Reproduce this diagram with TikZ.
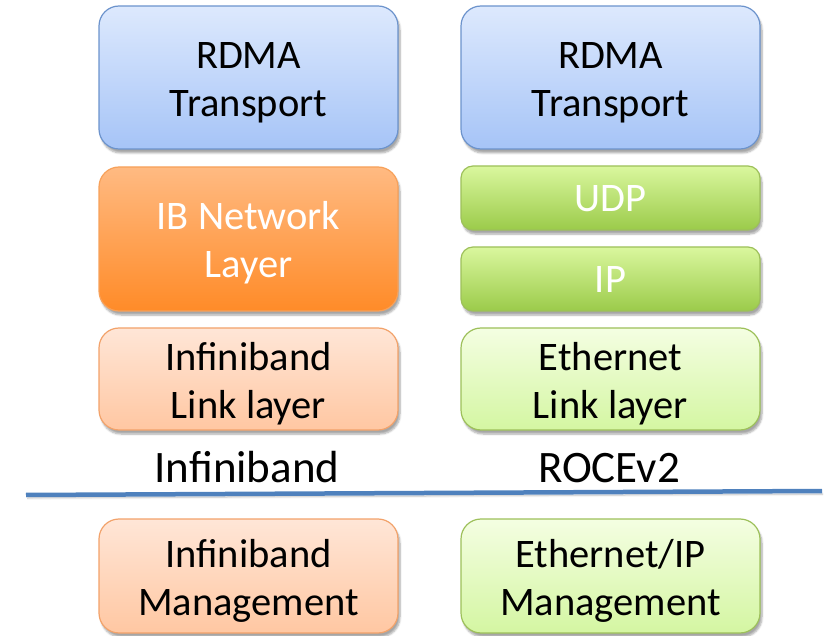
\documentclass[tikz,border=0pt]{standalone}
\usepackage{fontspec}
\setmainfont{Carlito}
\usetikzlibrary{shadows.blur}
\definecolor{bluetop}{HTML}{DDE9FD}
\definecolor{bluebot}{HTML}{A6C4F7}
\definecolor{blueedge}{HTML}{6C93CC}
\definecolor{orgtop}{HTML}{FFBA82}
\definecolor{orgbot}{HTML}{FF8B28}
\definecolor{orgedge}{HTML}{F7A15A}
\definecolor{ltotop}{HTML}{FFE6D7}
\definecolor{ltobot}{HTML}{FFC7A2}
\definecolor{ltoedge}{HTML}{F2A26A}
\definecolor{grntop}{HTML}{DAF79E}
\definecolor{grnbot}{HTML}{9BCB4A}
\definecolor{grnedge}{HTML}{9DC05A}
\definecolor{ltgtop}{HTML}{F4FEE2}
\definecolor{ltgbot}{HTML}{D4F6A2}
\definecolor{ltgedge}{HTML}{9DC05A}
\definecolor{divider}{HTML}{4F81BD}
\tikzset{
  layer/.style={rectangle, rounded corners=20pt, line width=1.2pt,
    minimum width=299pt, align=center, inner sep=0pt,
    font=\fontsize{40.5}{48}\selectfont,
    text height=78pt, text depth=0pt,
    blur shadow={shadow xshift=2pt, shadow yshift=-4pt, shadow blur steps=6, shadow opacity=35}},
  thin layer/.style={layer, rounded corners=12pt, text height=28pt},
  bluelayer/.style={layer, top color=bluetop, bottom color=bluebot, draw=blueedge, text=black},
  orangelayer/.style={layer, top color=orgtop, bottom color=orgbot, draw=orgedge, text=white},
  peachlayer/.style={layer, top color=ltotop, bottom color=ltobot, draw=ltoedge, text=black},
  greenlayer/.style={thin layer, top color=grntop, bottom color=grnbot, draw=grnedge, text=white},
  limelayer/.style={layer, top color=ltgtop, bottom color=ltgbot, draw=ltgedge, text=black},
  stacklabel/.style={font=\fontsize{45}{54}\selectfont, text=black,
    inner sep=0pt, text height=31pt, text depth=0pt}
}
\begin{document}
\begin{tikzpicture}[x=1pt, y=1pt]
\useasboundingbox (0,0) rectangle (833,-636);
% left stack: InfiniBand
\node[bluelayer, minimum height=143pt] (ibrdma) at (248.5,-77.5) {RDMA\\Transport};
\node[orangelayer, minimum height=144pt] (ibnet) at (248.5,-239) {IB Network\\Layer};
\node[peachlayer, minimum height=102pt] (iblink) at (248.5,-379) {Infiniband\\Link layer};
\node[stacklabel] (iblabel) at (247,-467) {Infiniband};
% right stack: RoCEv2
\node[bluelayer, minimum height=143pt] (rordma) at (610.5,-77.5) {RDMA\\Transport};
\node[greenlayer, minimum height=64pt] (udp) at (610.5,-198) {UDP};
\node[greenlayer, minimum height=64pt] (ip) at (610.5,-279) {IP};
\node[limelayer, minimum height=102pt] (ethlink) at (610.5,-379) {Ethernet\\Link layer};
\node[stacklabel] (rolabel) at (609,-467) {ROCEv2};
% divider between data path and management
\coordinate (divl) at (26,-495);
\coordinate (divr) at (822,-491);
\draw[line width=4.5pt, divider, blur shadow={shadow xshift=1pt, shadow yshift=-3pt, shadow opacity=30}] (divl) -- (divr);
% management layers
\node[peachlayer, minimum height=114pt] (ibmgmt) at (248.5,-576) {Infiniband\\Management};
\node[limelayer, minimum height=114pt] (ethmgmt) at (610.5,-576) {Ethernet/IP\\Management};
\end{tikzpicture}
\end{document}
